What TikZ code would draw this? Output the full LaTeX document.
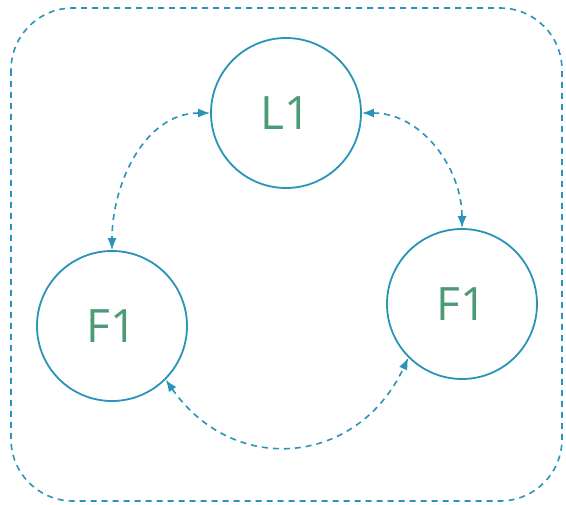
\documentclass[tikz,border=0pt]{standalone}
\usepackage{fontspec}
\setmainfont{Open Sans}
\usetikzlibrary{arrows.meta}
\definecolor{lineblue}{HTML}{2A93B8}
\definecolor{textgreen}{HTML}{4C9A76}
\begin{document}
\begin{tikzpicture}[x=1pt,y=-1pt,
  nodecirc/.style={circle,draw=lineblue,line width=1.8pt,minimum size=150pt,inner sep=0pt,
    text=textgreen,font=\fontsize{46}{50}\selectfont},
  link/.style={draw=lineblue,dash pattern=on 6pt off 5pt,line width=1.6pt,
    {Latex[length=12pt,width=9pt]}-{Latex[length=12pt,width=9pt]}},
  frame/.style={draw=lineblue,dash pattern=on 6pt off 5pt,line width=1.6pt,rounded corners=62pt}]
\useasboundingbox (0,0) rectangle (566,505);
\draw[frame] (11,8) rectangle (562,501);
\node[nodecirc] (L) at (286,113) {L1};
\node[nodecirc] (FA) at (112,326) {F1};
\node[nodecirc] (FB) at (462,304) {F1};
\draw[link] (L.west) to[out=180,in=90] (FA.north);
\draw[link] (L.east) to[out=0,in=90] (FB.north);
\draw[link] (FA.-45) to[out=-55,in=-115,looseness=1.25] (FB.-135);
\end{tikzpicture}
\end{document}
